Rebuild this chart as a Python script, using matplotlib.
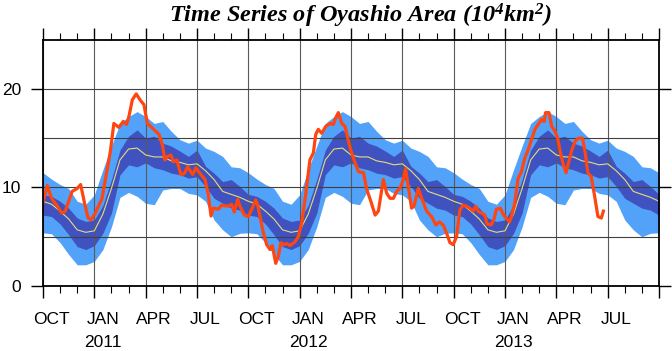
import numpy as np
import matplotlib

matplotlib.use("Agg")
import matplotlib.pyplot as plt
from matplotlib.ticker import MultipleLocator

plt.rcParams["font.family"] = ["Liberation Sans", "DejaVu Sans"]
plt.rcParams["mathtext.fontset"] = "custom"
plt.rcParams["mathtext.rm"] = "Liberation Serif:italic:bold"
plt.rcParams["mathtext.it"] = "Liberation Serif:italic:bold"

# Climatology, one year at half-month steps starting 1 Oct (months since Oct 2010)
clim_mean = [8.6, 8.3, 7.6, 6.8, 5.7, 5.45, 5.6, 7.3, 9.9, 12.8, 13.9, 14.0,
             13.3, 13.1, 13.1, 12.7, 12.55, 12.3, 12.4, 11.7, 10.8, 9.6, 9.3, 9.0]
dark_top = [9.3, 9.1, 8.6, 7.9, 6.9, 6.55, 6.7, 8.2, 10.8, 13.8, 15.2, 15.85,
            15.0, 15.2, 14.5, 14.2, 13.7, 13.15, 13.8, 12.15, 11.45, 10.6, 10.8, 10.1]
dark_bot = [7.2, 7.05, 6.3, 5.2, 4.0, 3.7, 4.1, 5.35, 7.4, 11.3, 12.3, 12.1,
            12.5, 12.0, 11.8, 11.45, 11.3, 10.95, 11.1, 10.1, 8.9, 8.4, 7.9, 7.7]
light_top = [11.5, 10.85, 10.3, 9.9, 8.6, 8.3, 9.25, 11.8, 14.2, 16.5, 17.2, 17.7,
             17.2, 16.5, 16.7, 15.7, 14.85, 14.5, 14.8, 14.0, 13.66, 13.15, 12.1, 12.0]
light_bot = [5.4, 5.3, 4.4, 3.2, 2.15, 2.15, 2.5, 3.7, 6.0, 9.0, 9.5, 9.1,
             8.4, 8.25, 9.75, 9.9, 9.9, 9.4, 9.25, 8.6, 6.7, 5.7, 5.0, 5.35]
n_years = 3

# Observed area (months since 1 Oct 2010, 10^4 km^2)
obs_month = [0.0, 0.25, 0.5, 0.8, 1.1, 1.3, 1.7, 2.0, 2.2, 2.43, 2.63, 2.8, 3.06, 3.45,
             3.75, 3.94, 4.14, 4.43, 4.69, 4.88, 5.02, 5.22, 5.45, 5.67, 5.9, 6.1, 6.29,
             6.59, 6.78, 6.98, 7.12, 7.27, 7.47, 7.63, 7.82, 8.06, 8.25, 8.45, 8.75, 8.94,
             9.14, 9.47, 9.66, 9.82, 9.95, 10.25, 10.44, 10.83, 11.03, 11.18, 11.38, 11.51,
             11.77, 12.0, 12.23, 12.43, 12.55, 12.68, 12.88, 13.07, 13.27, 13.4, 13.6,
             13.75, 13.91, 14.05, 14.24, 14.44, 14.73, 14.92, 15.12, 15.31, 15.6, 15.8,
             15.94, 16.09, 16.29, 16.52, 16.78, 16.97, 17.1, 17.26, 17.46, 17.65, 17.81,
             17.95, 18.14, 18.3, 18.44, 18.73, 18.92, 19.16, 19.41, 19.6, 19.89, 20.09,
             20.28, 20.48, 20.67, 20.86, 21.02, 21.19, 21.35, 21.54, 21.68, 21.93, 22.13,
             22.42, 22.71, 22.96, 23.16, 23.39, 23.62, 23.78, 23.97, 24.17, 24.36, 24.55,
             24.75, 24.94, 25.14, 25.29, 25.43, 25.62, 25.82, 25.95, 26.2, 26.34, 26.5,
             26.73, 26.92, 27.12, 27.27, 27.37, 27.57, 27.76, 27.96, 28.16, 28.35, 28.55,
             28.75, 28.94, 29.14, 29.29, 29.37, 29.57, 29.73, 29.92, 30.08, 30.22, 30.41,
             30.57, 30.71, 30.9, 31.1, 31.29, 31.53, 31.69, 31.84, 32.04, 32.24, 32.43,
             32.63, 32.75]
obs_value = [8.5, 10.2, 8.9, 8.2, 7.4, 7.6, 9.6, 9.9, 10.3, 8.4, 6.95, 6.7, 7.4, 8.9,
             11.8, 13.7, 16.5, 16.1, 16.7, 16.4, 17.2, 18.9, 19.5, 18.9, 18.4, 16.5, 16.2,
             15.7, 15.4, 14.3, 12.8, 13.15, 13.3, 12.6, 12.8, 11.3, 11.4, 12.1, 11.3, 12.0,
             11.5, 10.8, 9.3, 7.1, 7.9, 7.8, 8.2, 8.1, 8.3, 7.5, 8.8, 8.1,
             7.2, 7.05, 7.9, 8.75, 8.2, 7.05, 5.4, 4.2, 3.7, 4.1, 2.3,
             3.0, 4.4, 4.2, 4.3, 4.1, 4.5, 5.0, 6.4, 8.75, 12.8, 13.5,
             15.4, 15.9, 15.5, 16.2, 16.5, 16.4, 17.05, 17.6, 16.5, 16.2, 15.0,
             14.0, 13.0, 12.2, 11.6, 11.5, 9.8, 8.6, 7.2, 7.6, 10.8, 9.4,
             8.9, 8.9, 9.6, 9.9, 10.6, 11.9, 10.1, 7.9, 8.1, 9.9, 8.9,
             7.6, 7.05, 6.2, 6.5, 6.2, 5.2, 4.4, 4.2, 5.0, 7.7, 8.2,
             8.1, 7.9, 7.6, 8.1, 7.6, 7.4, 7.2, 6.3, 6.2, 6.7, 7.8,
             7.9, 7.2, 6.8, 6.5, 7.05, 8.4, 10.9, 11.6, 13.0, 13.8, 14.85,
             15.9, 16.4, 16.9, 16.7, 17.6, 17.6, 16.2, 15.7, 15.0, 13.7, 12.3,
             11.5, 12.5, 13.8, 14.7, 15.0, 15.0, 13.5, 11.5, 11.1, 9.1, 7.05,
             6.9, 7.6]

month_labels = ["OCT", "JAN", "APR", "JUL"]
year_labels = ["2011", "2012", "2013"]


def tile_year(values):
    # repeat the annual cycle and close it at the end of the last year
    v = np.tile(values, n_years)
    return np.append(v, values[0])


clim_month = np.arange(len(clim_mean) * n_years + 1) * 0.5

fig = plt.figure(figsize=(6.72, 3.51), dpi=100)
ax = fig.add_axes((43 / 672, 65 / 351, 616 / 672, 246.3 / 351))

ax.fill_between(clim_month, tile_year(light_bot), tile_year(light_top),
                color="#52a2fa", lw=0, zorder=1)
ax.fill_between(clim_month, tile_year(dark_bot), tile_year(dark_top),
                color="#3f52c0", lw=0, zorder=2)
ax.plot(clim_month, tile_year(clim_mean), color="#e6dc78", lw=0.8, zorder=3)
ax.plot(obs_month, obs_value, color="#ff4510", lw=2.3, zorder=5,
        solid_joinstyle="round")

ax.set_xlim(0, 12 * n_years)
ax.set_ylim(0, 25)

ax.xaxis.set_major_locator(MultipleLocator(3))
ax.xaxis.set_minor_locator(MultipleLocator(1))
ax.set_yticks([0, 10, 20])
ax.set_yticks([5, 15], minor=True)
ax.tick_params(axis="x", which="major", direction="out", length=8.5, width=1.0,
               top=True, bottom=True, labelbottom=False)
ax.tick_params(axis="x", which="minor", direction="out", length=5, width=0.8,
               top=True, bottom=True)
ax.tick_params(axis="y", which="major", direction="out", length=8.5, width=1.0,
               left=True, right=True, labelsize=12.5, pad=7)
ax.tick_params(axis="y", which="minor", length=0)
ax.grid(axis="y", which="both", color="0.25", lw=0.8, zorder=4)
ax.grid(axis="x", which="major", color="0.35", lw=0.8, zorder=4)
ax.set_axisbelow(False)
for s in ax.spines.values():
    s.set_linewidth(1.3)
    s.set_zorder(6)

# month labels sit at mid-month, years under the JAN labels
trans = ax.get_xaxis_transform()
for k in range(4 * n_years):
    ax.text(3 * k + 0.5, -0.138, month_labels[k % 4], transform=trans,
            ha="center", va="center", fontsize=12.5)
for k in range(n_years):
    ax.text(12 * k + 3.5, -0.231, year_labels[k], transform=trans,
            ha="center", va="center", fontsize=12.5)

fig.text(361 / 672, 1 - 16 / 351, r"Time Series of Oyashio Area (10$^{4}$km$^{2}$)",
         ha="center", va="center", fontsize=17.5, family="Liberation Serif",
         style="italic", weight="bold")

fig.savefig("out.png", dpi=100)
